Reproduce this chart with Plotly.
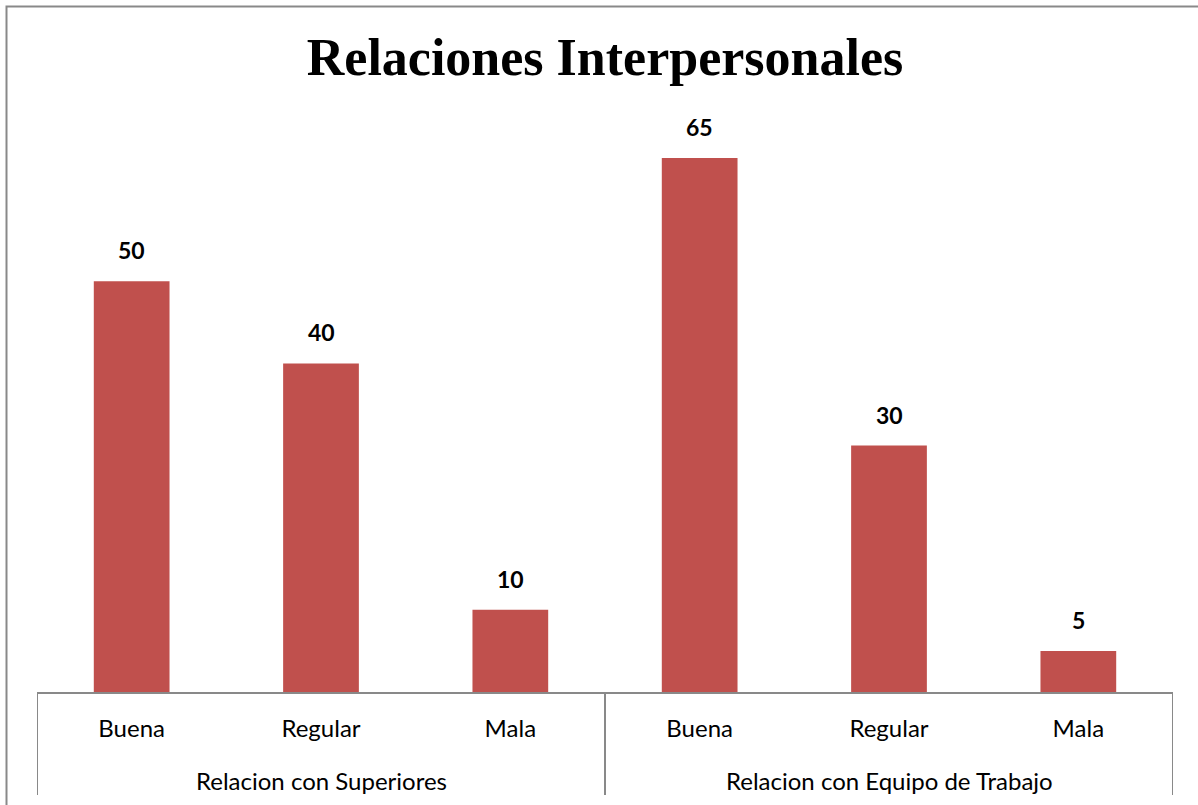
import plotly.graph_objects as go

# Survey results: interpersonal relations, grouped by relation type
groups = ["Relacion con Superiores", "Relacion con Equipo de Trabajo"]
ratings = ["Buena", "Regular", "Mala"]
superiores = [50, 40, 10]
equipo = [65, 30, 5]

values = superiores + equipo
labels = ratings + ratings
xpos = list(range(len(values)))

BAR = "#C0504D"
LINE = "#898989"
SANS = "Lato, 'Open Sans', sans-serif"

fig = go.Figure()
fig.add_trace(go.Bar(
    x=xpos, y=values, width=0.4,
    marker=dict(color=BAR, line=dict(width=0)),
    hoverinfo="x+y",
))

# value labels above each bar
for x, v in zip(xpos, values):
    fig.add_annotation(
        x=x, y=v, text=f"<b>{v}</b>", showarrow=False,
        yanchor="bottom", yshift=15,
        font=dict(family=SANS, size=23, color="black"),
    )

# group labels under the rating labels
n = len(ratings)
for i, g in enumerate(groups):
    fig.add_annotation(
        x=i * n + (n - 1) / 2, y=0, yref="y", text=g, showarrow=False,
        yanchor="middle", yshift=-88,
        font=dict(family=SANS, size=24, color="black"),
    )

# table-style axis: dividers at outer edges and between groups
for k in range(len(groups) + 1):
    xb = k * n - 0.5
    fig.add_shape(type="line", xref="x", yref="paper",
                  x0=xb, x1=xb, y0=0, y1=-103 / 575,
                  line=dict(color=LINE, width=2))

# outer chart border
W, H = 1198, 805
L, R, T, B = 37, 25, 117, 113
pw, ph = W - L - R, H - T - B
def px(xp):
    return (xp - L) / pw
def py(yp):
    return (H - B - yp) / ph
fig.add_shape(type="rect", xref="paper", yref="paper",
              x0=px(6.5), x1=px(1240), y0=py(850), y1=py(6.5),
              line=dict(color=LINE, width=2), layer="below")

fig.update_layout(
    width=W, height=H,
    margin=dict(l=L, r=R, t=T, b=B),
    paper_bgcolor="white", plot_bgcolor="white",
    showlegend=False,
    title=dict(
        text="<b>Relaciones Interpersonales</b>",
        x=0.5, xanchor="center", xref="paper",
        y=1 - 57 / H, yanchor="middle",
        font=dict(family="'Liberation Serif', serif", size=52, color="black"),
    ),
    xaxis=dict(
        range=[-0.5, len(values) - 0.5],
        tickmode="array", tickvals=xpos, ticktext=labels,
        showline=True, linecolor=LINE, linewidth=2,
        showgrid=False, zeroline=False, ticks="",
        tickfont=dict(family=SANS, size=24, color="black"),
        ticklabelstandoff=14,
    ),
    yaxis=dict(
        range=[0, 70], visible=False, showgrid=False, zeroline=False,
    ),
)

fig.write_html("out.html")
